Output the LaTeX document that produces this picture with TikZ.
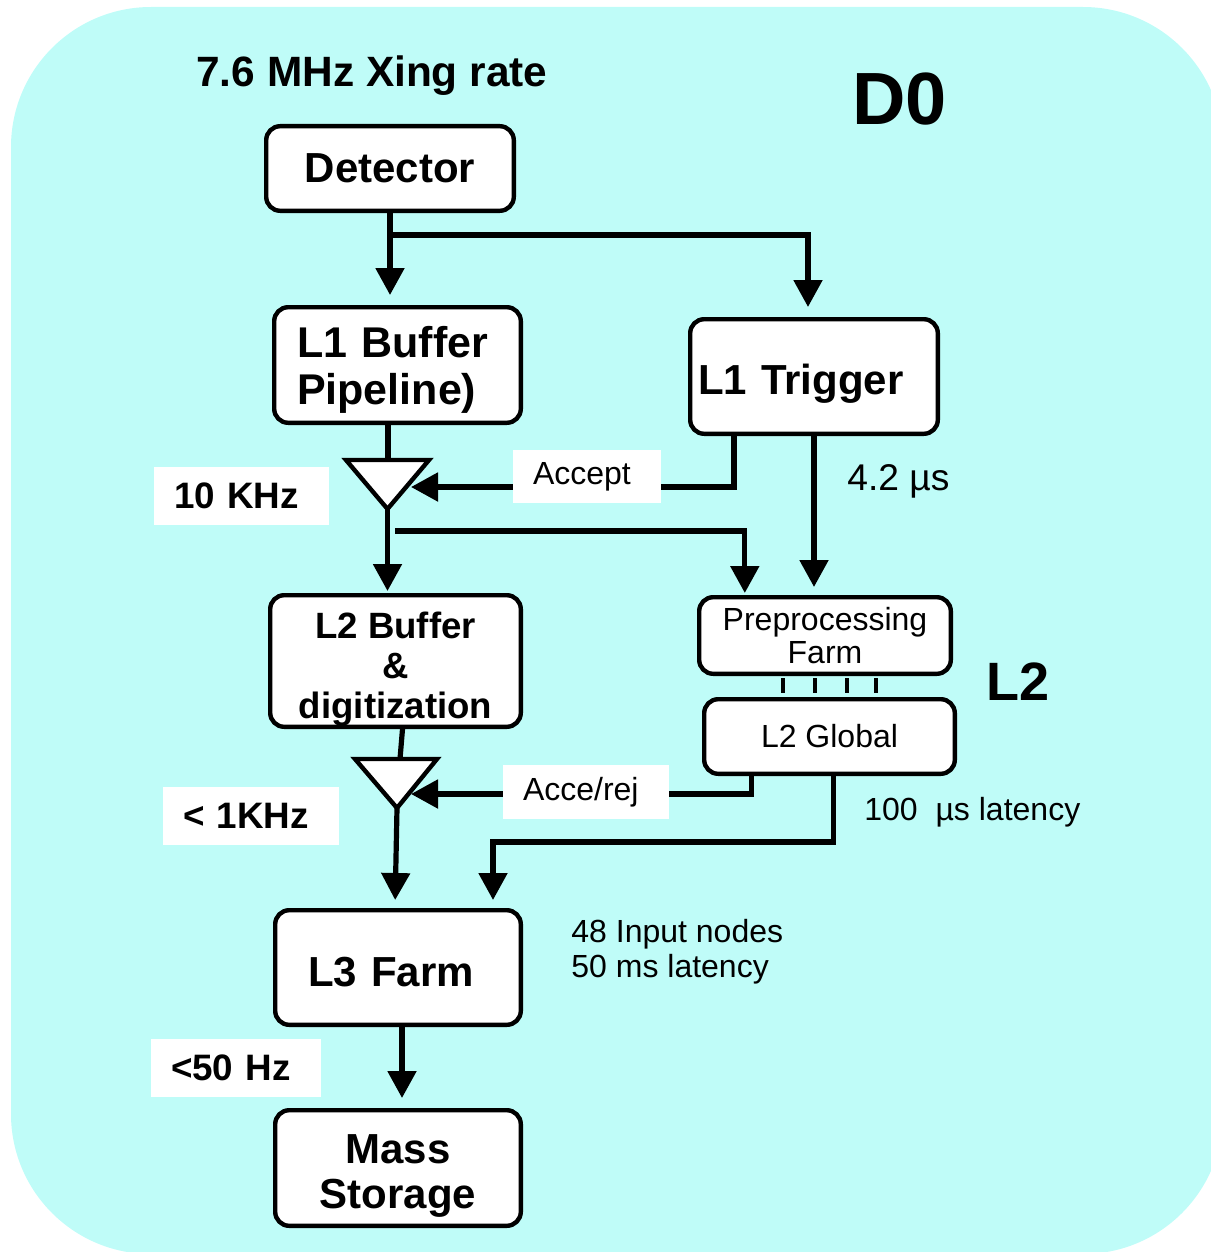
\documentclass[tikz,border=0pt]{standalone}
\usepackage{fontspec}
\setmainfont{Liberation Sans}
\usetikzlibrary{arrows.meta}
\definecolor{panel}{RGB}{191,252,248}

\begin{document}
\begin{tikzpicture}[x=0.5pt,y=-0.5pt,
	stage/.style={draw,line width=2.2pt,rounded corners=7pt,fill=white,inner ysep=0pt,font=\fontsize{21}{23.5}\selectfont\bfseries},
	tag/.style={fill=white,inner xsep=10pt,inner ysep=0pt,align=left,minimum height=29pt,font=\fontsize{18.4}{20}\selectfont\bfseries},
	note/.style={inner sep=0pt,font=\fontsize{16}{17.5}\selectfont},
	wire/.style={line width=2.6pt},
	arr/.style={wire,-{Triangle[width=14pt,length=13.5pt]}},
	gate/.style={line width=2.2pt,fill=white,line join=miter}]
	\useasboundingbox (0,0) rectangle (1210,1252);
	\fill[panel,rounded corners=70pt] (11,7) rectangle (1223,1254);

	\node[stage,minimum width=123.8pt,minimum height=42.3pt] (det) at (390,168.5) {Detector};
	\node[stage,align=left,text width=100.5pt,inner xsep=11.4pt,minimum height=57.8pt,font=\fontsize{21.5}{23.5}\selectfont\bfseries] (l1buf) at (397.5,365) {\rule{0pt}{20.5pt}L1 Buffer\\Pipeline)};
	\node[stage,align=left,text width=116pt,inner xsep=3.9pt,minimum height=57.3pt] (l1trig) at (814,376.5) {\rule{0pt}{22pt}L1 Trigger};
	\node[stage,align=center,minimum width=125.8pt,minimum height=38.3pt,font=\fontsize{16}{16.5}\selectfont] (pre) at (825,635.5) {Preprocessing\\Farm};
	\node[stage,minimum width=125.3pt,minimum height=37.3pt,font=\fontsize{16}{16.5}\selectfont] (glob) at (829.5,736.5) {L2 Global};
	\node[stage,align=center,minimum width=125.3pt,minimum height=65.8pt,font=\fontsize{18.3}{20}\selectfont\bfseries] (l2buf) at (395.5,661) {\rule{0pt}{21.3pt}L2 Buffer\\\&\\digitization};
	\node[stage,align=left,text width=90pt,inner xsep=16.4pt,minimum height=57.3pt] (l3) at (398,967.5) {\rule{0pt}{19pt}L3 Farm};
	\node[stage,align=center,minimum width=122.8pt,minimum height=57.8pt,font=\fontsize{21}{22.5}\selectfont\bfseries] (mass) at (398,1168) {\rule{0pt}{22pt}Mass\\Storage};

	\draw[gate] (346,460) -- (429,460) -- (387.5,509) coordinate (g1out) -- cycle;
	\coordinate (g1in) at (388,460);
	\coordinate (g1acc) at (411,487);
	\draw[gate] (355,759) -- (437,759) -- (397,808) coordinate (g2out) -- cycle;
	\coordinate (g2in) at (400,759);
	\coordinate (g2rej) at (411,794);
	\coordinate (fork1) at (391,235);
	\coordinate (fork2) at (395,531);

	\draw[arr,shorten >=5pt] (det) -- (det |- l1buf.north);
	\draw[arr,shorten >=5pt] (fork1) -| ([xshift=-3pt]l1trig.north);
	\draw[wire] (g1in |- l1buf.south) -- (g1in);
	\draw[arr,shorten >=1pt] (g1out) -- (g1out |- l2buf.north);
	\draw[arr,shorten >=1pt] (fork2) -| ([xshift=23.9pt]pre.north west);
	\draw[arr,shorten >=4pt] (l1trig) -- (l1trig |- pre.north);
	\draw[arr] ([xshift=-40pt]l1trig.south) |- (g1acc);
	\foreach \x in {783,815,847,876}
		\draw[wire,line width=2.2pt,shorten <=1pt,shorten >=2pt] (pre.south -| \x,0) -- (glob.north -| \x,0);
	\draw[arr] ([xshift=-39pt]glob.south) |- (g2rej);
	\draw[arr,shorten >=4pt] ([xshift=2pt]glob.south) -- ++(0,66) -| ([xshift=47.5pt]l3.north);
	\draw[wire] ([xshift=3.5pt]l2buf.south) -- (g2in);
	\draw[arr,shorten >=4pt] (g2out) -- ([xshift=-1.5pt]l3.north);
	\draw[arr,shorten >=5pt] ([xshift=2pt]l3.south) -- ([xshift=2pt]mass.north);

	\node[tag,text width=67.5pt] (tenk) at (241.5,496) {10 KHz};
	\node[tag,text width=54pt,minimum height=26.5pt,font=\fontsize{16}{17.5}\selectfont] (acc) at (587,476.5) {Accept};
	\node[tag,text width=63pt,minimum height=27pt,font=\fontsize{16}{17.5}\selectfont] (rej) at (586,792) {Acce/rej};
	\node[tag,text width=68pt] (onek) at (251,816) {< 1KHz};
	\node[tag,text width=65pt] (fifty) at (236,1068) {<50 Hz};

	\node[note,anchor=base west,font=\fontsize{21.2}{24}\selectfont\bfseries] (rate) at (196,87) {7.6 MHz Xing rate};
	\node[note,anchor=base west,font=\fontsize{37}{42}\selectfont\bfseries] (dzero) at (852,125) {D0};
	\node[note,anchor=base west,font=\fontsize{18.6}{20}\selectfont] (lat1) at (847,490) {4.2 µs};
	\node[note,anchor=base west,font=\fontsize{27}{30}\selectfont\bfseries] (ltwo) at (986,700) {L2};
	\node[note,anchor=base west] (lat2) at (864,820) {100~~µs latency};
	\node[note,anchor=north west,align=left] (l3note) at (571,919) {48 Input nodes\\50 ms latency};
\end{tikzpicture}
\end{document}
